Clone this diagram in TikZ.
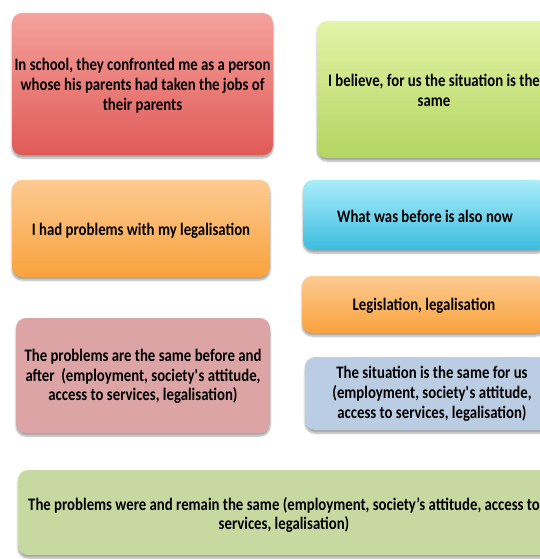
\documentclass[tikz,border=0pt]{standalone}
\usepackage{fontspec}
\setmainfont{Carlito}[FakeStretch=0.84]
\usetikzlibrary{shadows.blur}
\definecolor{redT}{HTML}{F5A29C}
\definecolor{redB}{HTML}{E05A58}
\definecolor{grnT}{HTML}{E2F3A8}
\definecolor{grnB}{HTML}{B3D560}
\definecolor{orT}{HTML}{FDCA92}
\definecolor{orB}{HTML}{F9A23C}
\definecolor{cyT}{HTML}{AAEDFA}
\definecolor{cyB}{HTML}{3CBDDF}
\definecolor{pinkC}{HTML}{DCA4A4}
\definecolor{lbC}{HTML}{BBCDE3}
\definecolor{lgC}{HTML}{C7D9A1}
\tikzset{
  card/.style={rectangle, rounded corners=10pt, inner sep=0pt,
    blur shadow={shadow blur steps=6, shadow xshift=0pt, shadow yshift=-3pt, shadow opacity=35, shadow blur extra rounding=2pt}},
  txt/.style={inner sep=0pt, align=center, text=black,
    font=\bfseries\fontsize{17.6}{19.8}\selectfont},
  grad/.style n args={2}{top color=#1, bottom color=#2},
}
\begin{document}
\begin{tikzpicture}[x=1pt,y=-1pt]
\useasboundingbox (0,0) rectangle (540,559);
\clip (0,0) rectangle (540,559);
\node[card, grad={redT}{redB}, minimum width=261pt, minimum height=142pt] (school) at (142.5,84) {};
\node[txt] (school-t) at ([yshift=-2pt]school.center)
  {In school, they confronted me as a person\\whose his parents had taken the jobs of\\their parents};
\node[card, grad={grnT}{grnB}, minimum width=234pt, minimum height=137pt] (believe) at (434,89.5) {};
\node[txt] (believe-t) at ([yshift=-1pt]believe.center)
  {I believe, for us the situation is the\\same};
\node[card, grad={orT}{orB}, minimum width=258pt, minimum height=97pt] (legal) at (141,228.5) {};
\node[txt] (legal-t) at ([yshift=-2pt]legal.center) {I had problems with my legalisation};
\node[card, grad={cyT}{cyB}, minimum width=244pt, minimum height=70pt] (before) at (425,215) {};
\node[txt] (before-t) at ([yshift=-1pt]before.center) {What was before is also now};
\node[card, grad={orT}{orB}, minimum width=244pt, minimum height=57pt] (legis) at (424,304.5) {};
\node[txt] (legis-t) at ([yshift=-1.5pt]legis.center) {Legislation, legalisation};
\node[card, fill=pinkC, minimum width=254pt, minimum height=115pt] (same) at (143,375.5) {};
\node[txt] (same-t) at ([yshift=-1pt]same.center)
  {The problems are the same before and\\after~ (employment, society\textquotesingle s attitude,\\access to services, legalisation)};
\node[card, fill=lbC, minimum width=254pt, minimum height=73pt] (forus) at (432,393.5) {};
\node[txt] (forus-t) at ([yshift=0pt]forus.center)
  {The situation is the same for us\\(employment, society\textquotesingle s attitude,\\access to services, legalisation)};
\node[card, fill=lgC, minimum width=532pt, minimum height=85pt] (remain) at (284,512.5) {};
\node[txt] (remain-t) at ([yshift=-2.5pt]remain.center)
  {The problems were and remain the same (employment, society's attitude, access to\\services, legalisation)};
\end{tikzpicture}
\end{document}
